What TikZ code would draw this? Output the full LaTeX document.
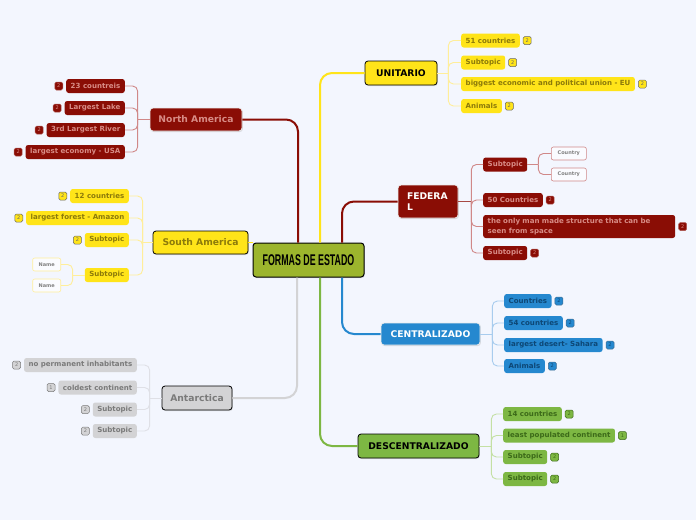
\documentclass[tikz,border=0pt]{standalone}
\usepackage{fontspec}
\setmainfont{DejaVu Sans}
\newfontfamily\titlefont{Liberation Sans}
\usetikzlibrary{positioning,shadows}
\definecolor{bg}{HTML}{F3F6FE}
\definecolor{olive}{HTML}{9CB52D}
\definecolor{yel}{HTML}{FFE419}
\definecolor{yeltxt}{HTML}{8C7A0A}
\definecolor{yelline}{HTML}{FFEE9A}
\definecolor{red}{HTML}{8A0D05}
\definecolor{redtxt}{HTML}{D88C86}
\definecolor{redline}{HTML}{D08888}
\definecolor{blu}{HTML}{2588CF}
\definecolor{blutxt}{HTML}{0D4775}
\definecolor{bluline}{HTML}{A8CCEE}
\definecolor{grn}{HTML}{7DB743}
\definecolor{grntxt}{HTML}{3C6A19}
\definecolor{grnline}{HTML}{C4E0A4}
\definecolor{gry}{HTML}{D3D3D5}
\definecolor{grytxt}{HTML}{7A7A7A}
\definecolor{gryline}{HTML}{DFE0E6}
\begin{document}
\begin{tikzpicture}[x=1pt,y=-1pt,
  mainnode/.style={rounded corners=3pt, font=\bfseries\fontsize{9.2}{10.5}\selectfont, inner sep=0pt, line width=0.8pt,
     drop shadow={opacity=0.25, shadow xshift=0.8pt, shadow yshift=-1pt}},
  kid/.style={rounded corners=2.5pt, font=\bfseries\fontsize{7.05}{8}\selectfont, inner xsep=4.5pt, inner ysep=0pt, minimum height=14pt},
  ykid/.style={kid, fill=yel, text=yeltxt},
  rkid/.style={kid, fill=red, text=redtxt},
  bkid/.style={kid, fill=blu, text=blutxt},
  gkid/.style={kid, fill=grn, text=grntxt},
  akid/.style={kid, fill=gry, text=grytxt},
  badge/.style={rounded corners=1.5pt, minimum size=8pt, inner sep=0pt, line width=0.5pt, font=\fontsize{5}{5}\selectfont},
  ybadge/.style={badge, fill=yel, draw=gray!80!black, text=gray!80!black},
  rbadge/.style={badge, fill=red, draw=red!70!white, text=redtxt},
  bbadge/.style={badge, fill=blu, draw=blutxt!80, text=blutxt},
  gbadge/.style={badge, fill=grn, draw=grntxt, text=grntxt},
  abadge/.style={badge, fill=gry, draw=grytxt, text=grytxt},
  leaf/.style={rounded corners=2pt, fill=white!60!bg, line width=0.6pt, font=\bfseries\fontsize{5}{5}\selectfont, text=gray, inner sep=0pt, minimum height=13pt},
  conn/.style={line width=2pt, rounded corners=12pt},
  sub/.style={line width=0.9pt, rounded corners=5pt}
]
\path[fill=bg] (0,0) rectangle (696,520);
\useasboundingbox (0,0) rectangle (696,520);

% ---- main nodes
\node[mainnode, fill=olive, draw=black, line width=1pt, minimum width=111pt, minimum height=34pt] (c) at (308.5,260)
  {\titlefont\bfseries\scalebox{0.57}[1]{\fontsize{15.5}{15.5}\selectfont FORMAS DE ESTADO}};
\node[mainnode, fill=yel, draw=black, text=black, minimum width=72pt, minimum height=24pt] (u) at (401,73) {UNITARIO};
\node[mainnode, fill=red, draw=white!85!gray, text=white, minimum width=60pt, minimum height=33pt, text width=42pt, align=left] (f) at (428,201.5) {FEDERA\\L};
\node[mainnode, fill=blu, draw=white!85!gray, text=white, minimum width=99pt, minimum height=22pt] (ce) at (430.5,334) {CENTRALIZADO};
\node[mainnode, fill=grn, draw=black, text=black, minimum width=121pt, minimum height=24pt] (de) at (418.5,446) {DESCENTRALIZADO};
\node[mainnode, fill=red, draw=white!85!gray, text=redtxt, minimum width=92pt, minimum height=23pt] (na) at (196,119.5) {North America};
\node[mainnode, fill=yel, draw=black, text=yeltxt, minimum width=95pt, minimum height=23pt] (sa) at (200.5,242.5) {South America};
\node[mainnode, fill=gry, draw=black, text=grytxt, minimum width=70pt, minimum height=24pt] (an) at (197,398) {Antarctica};

% ---- main connectors
\draw[conn, red] ([xshift=-10.5pt]c.north) |- (na.east);
\draw[conn, yel] ([xshift=11.5pt]c.north) |- (u.west);
\draw[conn, red] ([xshift=33.5pt]c.north) |- (f.west);
\draw[conn, blu] ([xshift=33.5pt]c.south) |- (ce.west);
\draw[conn, grn] ([xshift=11.5pt]c.south) |- (de.west);
\draw[conn, gry] ([xshift=-11.5pt]c.south) |- (an.east);
\draw[line width=1.5pt, yel] (sa.east) -- (sa.east -| c.west);

% ---- UNITARIO children
\node[ykid, anchor=west] (u1) at (461,40.5) {51 countries};
\node[ykid, anchor=west] (u2) at (461,62.5) {Subtopic};
\node[ykid, anchor=west] (u3) at (461,84) {biggest economic and political union - EU};
\node[ykid, anchor=west] (u4) at (461,106) {Animals};
\node[ybadge, right=3pt of u1] (u1b) {2};
\node[ybadge, right=3pt of u2] (u2b) {2};
\node[ybadge, right=3pt of u3] (u3b) {2};
\node[ybadge, right=3pt of u4] (u4b) {2};
\draw[sub, yelline] (u.east) -- ++(11,0);
\foreach \k in {u1,u2,u3,u4} \draw[sub, yelline] (u.east) ++(11,0) |- (\k.west);

% ---- FEDERAL children
\node[rkid, anchor=west] (f1) at (483,164.5) {Subtopic};
\node[rkid, anchor=west] (f2) at (483,200) {50 Countries};
\node[rkid, anchor=west, minimum height=23pt, text width=183pt, align=left, font=\bfseries\fontsize{7.05}{9.5}\selectfont] (f3) at (483,226.5) {the only man made structure that can be seen from space};
\node[rkid, anchor=west] (f4) at (483,253) {Subtopic};
\node[rbadge, right=3pt of f2] (f2b) {2};
\node[rbadge, right=3pt of f3] (f3b) {2};
\node[rbadge, right=3pt of f4] (f4b) {2};
\draw[sub, red!75!white] (f.east) -- ++(13,0);
\foreach \k in {f1,f2,f3,f4} \draw[sub, redline] (f.east) ++(13,0) |- (\k.west);
\node[leaf, draw=redline, anchor=west, minimum width=35pt] (fc1) at (551,153.5) {Country};
\node[leaf, draw=redline, anchor=west, minimum width=35pt] (fc2) at (551,174.5) {Country};
\draw[sub, redline] (f1.east) -- ++(11,0);
\foreach \k in {fc1,fc2} \draw[sub, redline] (f1.east) ++(11,0) |- (\k.west);

% ---- CENTRALIZADO children
\node[bkid, anchor=west] (c1) at (504,301) {Countries};
\node[bkid, anchor=west] (c2) at (504,323) {54 countries};
\node[bkid, anchor=west] (c3) at (504,345) {largest desert- Sahara};
\node[bkid, anchor=west] (c4) at (504,366) {Animals};
\node[bbadge, right=3pt of c1] (c1b) {2};
\node[bbadge, right=3pt of c2] (c2b) {2};
\node[bbadge, right=3pt of c3] (c3b) {2};
\node[bbadge, right=3pt of c4] (c4b) {2};
\draw[sub, bluline] (ce.east) -- ++(12,0);
\foreach \k in {c1,c2,c3,c4} \draw[sub, bluline] (ce.east) ++(12,0) |- (\k.west);

% ---- DESCENTRALIZADO children
\node[gkid, anchor=west] (d1) at (503,414) {14 countries};
\node[gkid, anchor=west] (d2) at (503,435.5) {least populated continent};
\node[gkid, anchor=west] (d3) at (503,457) {Subtopic};
\node[gkid, anchor=west] (d4) at (503,479) {Subtopic};
\node[gbadge, right=3pt of d1] (d1b) {2};
\node[gbadge, right=3pt of d2] (d2b) {1};
\node[gbadge, right=3pt of d3] (d3b) {2};
\node[gbadge, right=3pt of d4] (d4b) {2};
\draw[sub, grnline] (de.east) -- ++(12,0);
\foreach \k in {d1,d2,d3,d4} \draw[sub, grnline] (de.east) ++(12,0) |- (\k.west);

% ---- North America children
\node[rkid, anchor=east] (n1) at (125,86) {23 countreis};
\node[rkid, anchor=east] (n2) at (125,108) {Largest Lake};
\node[rkid, anchor=east] (n3) at (125,130) {3rd Largest River};
\node[rkid, anchor=east] (n4) at (125,152) {largest economy - USA};
\node[rbadge, left=3pt of n1] (n1b) {2};
\node[rbadge, left=3pt of n2] (n2b) {2};
\node[rbadge, left=3pt of n3] (n3b) {2};
\node[rbadge, left=3pt of n4] (n4b) {2};
\draw[sub, redline] (na.west) -- ++(-12,0);
\foreach \k in {n1,n2,n3,n4} \draw[sub, redline] (na.west) ++(-12,0) |- (\k.east);

% ---- South America children
\node[ykid, anchor=east] (s1) at (129,196) {12 countries};
\node[ykid, anchor=east] (s2) at (129,218) {largest forest - Amazon};
\node[ykid, anchor=east] (s3) at (129,240) {Subtopic};
\node[ykid, anchor=east] (s4) at (129,275) {Subtopic};
\node[ybadge, left=3pt of s1] (s1b) {2};
\node[ybadge, left=3pt of s2] (s2b) {2};
\node[ybadge, left=3pt of s3] (s3b) {2};
\draw[sub, yelline] (sa.west) -- ++(-10,0);
\foreach \k in {s1,s2,s3,s4} \draw[sub, yelline] (sa.west) ++(-10,0) |- (\k.east);
\node[leaf, draw=yelline, anchor=east, minimum width=28pt] (sn1) at (61,264.5) {Name};
\node[leaf, draw=yelline, anchor=east, minimum width=28pt] (sn2) at (61,285.5) {Name};
\draw[sub, yelline] (s4.west) -- ++(-12,0);
\foreach \k in {sn1,sn2} \draw[sub, yelline] (s4.west) ++(-12,0) |- (\k.east);

% ---- Antarctica children
\node[akid, anchor=east] (a1) at (137,365) {no permanent inhabitants};
\node[akid, anchor=east] (a2) at (137,387.5) {coldest continent};
\node[akid, anchor=east] (a3) at (137,409.5) {Subtopic};
\node[akid, anchor=east] (a4) at (137,431) {Subtopic};
\node[abadge, left=3pt of a1] (a1b) {2};
\node[abadge, left=3pt of a2] (a2b) {1};
\node[abadge, left=3pt of a3] (a3b) {2};
\node[abadge, left=3pt of a4] (a4b) {2};
\draw[sub, gryline] (an.west) -- ++(-12,0);
\foreach \k in {a1,a2,a3,a4} \draw[sub, gryline] (an.west) ++(-12,0) |- (\k.east);
\end{tikzpicture}
\end{document}
